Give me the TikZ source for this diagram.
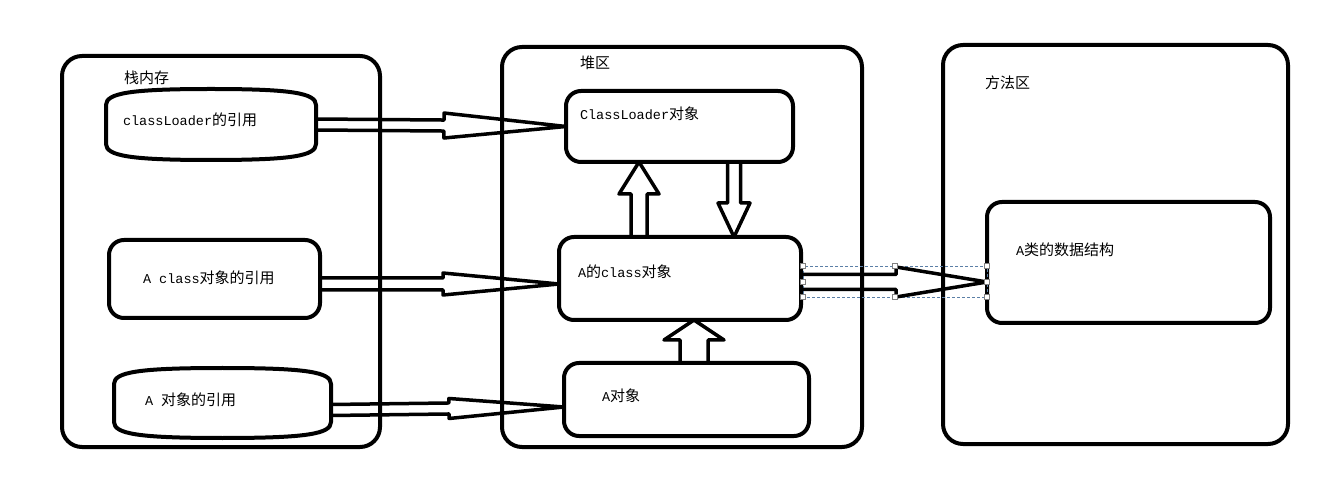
\documentclass[tikz,border=0pt]{standalone}
\usepackage{fontspec}
\setmainfont{Liberation Mono}
\newfontfamily\cjk{Noto Sans CJK SC}
\usetikzlibrary{calc}
\newcommand{\zh}[1]{{\cjk\fontsize{15}{17}\selectfont #1}}
\newcommand{\en}[1]{{\fontsize{13.5}{16}\selectfont #1}}
\definecolor{selcol}{HTML}{5B7FA6}
% hollow arrow: start, end, shaft half width, head half width, head length
\newcommand{\hollow}[5]{%
  \path let \p1=($(#2)-(#1)$) in \pgfextra{%
    \pgfmathparse{atan2(\y1,\x1)}\xdef\hang{\pgfmathresult}%
    \pgfmathparse{veclen(\x1,\y1)}\xdef\hlen{\pgfmathresult}};
  \begin{scope}[shift={(#1)},rotate=\hang]
    \draw[arrowline] (0,#3) -- ({\hlen-#5},#3) -- ({\hlen-#5},#4) -- (\hlen,0)
      -- ({\hlen-#5},-#4) -- ({\hlen-#5},-#3) -- (0,-#3);
  \end{scope}}
\newcommand{\tapebox}[1]{%
  \draw[boxline] ($(#1.north west)+(0,16)$) .. controls ($(#1.north west)+(0,4)$) and ($(#1.north west)+(25,0)$) .. (#1.north)
   .. controls ($(#1.north east)+(-25,0)$) and ($(#1.north east)+(0,4)$) .. ($(#1.north east)+(0,16)$)
   -- ($(#1.south east)+(0,-16)$) .. controls ($(#1.south east)+(0,-4)$) and ($(#1.south east)+(-25,0)$) .. (#1.south)
   .. controls ($(#1.south west)+(25,0)$) and ($(#1.south west)+(0,-4)$) .. ($(#1.south west)+(0,-16)$) -- cycle;}
\begin{document}
\begin{tikzpicture}[x=1pt,y=-1pt,
  boxline/.style={draw,line width=4pt,line join=round},
  container/.style={draw,line width=4pt,rounded corners=20pt,inner sep=0pt,outer sep=0pt},
  roundbox/.style={draw,line width=4pt,rounded corners=15pt,inner sep=0pt,outer sep=0pt},
  tapenode/.style={inner sep=0pt,outer sep=0pt},
  arrowline/.style={line width=3.5pt,line join=round},
  txt/.style={anchor=west,inner sep=0pt,outer sep=0pt},
  selbox/.style={draw=selcol,densely dashed,line width=0.8pt},
  handle/.style={draw=gray,fill=white,line width=0.8pt}]
\fill[white] (0,0) rectangle (1326,494);
\useasboundingbox (0,0) rectangle (1326,494);

% containers
\node[container,minimum width=318pt,minimum height=391pt] (stack) at (221,251.5) {};
\node[container,minimum width=360pt,minimum height=400pt] (heap) at (682,247) {};
\node[container,minimum width=345pt,minimum height=399pt] (method) at (1115.5,244.5) {};

\node[txt] (stacklbl) at (124,78) {\zh{栈内存}};
\node[txt] (heaplbl) at (580,63) {\zh{堆区}};
\node[txt] (methodlbl) at (985,83) {\zh{方法区}};

% stack items
\node[tapenode,minimum width=210pt,minimum height=71pt] (clref) at (211,124.5) {};
\tapebox{clref}
\node[roundbox,minimum width=211pt,minimum height=78pt] (aclsref) at (214.5,279) {};
\node[tapenode,minimum width=217pt,minimum height=70pt] (aref) at (222.5,403) {};
\tapebox{aref}

\node[txt] (clreft) at (123,120) {\en{classLoader}\zh{的引用}};
\node[txt] (aclsreft) at (143,278) {\en{A class}\zh{对象的引用}};
\node[txt] (areft) at (145,400) {\en{A\ }\zh{对象的引用}};

% heap items
\node[roundbox,minimum width=227pt,minimum height=71pt] (clobj) at (679.5,126.5) {};
\node[roundbox,minimum width=242pt,minimum height=83pt] (acls) at (680,278.5) {};
\node[roundbox,minimum width=245pt,minimum height=73pt] (aobj) at (686.5,399.5) {};

\node[txt] (clobjt) at (580,114) {\en{ClassLoader}\zh{对象}};
\node[txt] (aclst) at (578,272) {\en{A}\zh{的}\en{class}\zh{对象}};
\node[txt] (aobjt) at (602,396) {\en{A}\zh{对象}};

% method area item
\node[roundbox,minimum width=283pt,minimum height=121pt] (ads) at (1128.5,262.5) {};
\node[txt] (adst) at (1016,250) {\en{A}\zh{类的数据结构}};

% selection frame
\draw[selbox] (803,266) rectangle (987,297);

% arrows
\hollow{clref.east}{clobj.west}{5.5}{12.5}{122}
\hollow{$(aclsref.east)+(0,5)$}{$(acls.west)+(0,5.5)$}{6}{11}{116}
\hollow{$(aref.east)+(0,7)$}{$(aobj.west)+(0,7.5)$}{5.5}{10}{115}
\hollow{$(acls.north)+(-41,0)$}{$(clobj.south)+(-40.5,0)$}{8}{20}{32}
\hollow{$(clobj.south)+(54.5,0)$}{$(acls.north)+(54,0)$}{6.5}{16}{34}
\hollow{$(aobj.north)+(7.5,0)$}{$(acls.south)+(14,0)$}{14}{30}{20}
\hollow{$(acls.east)+(0,3.5)$}{$(ads.west)+(0,19.5)$}{7.5}{15}{91}

% selection handles
\foreach \hx/\hy in {803/266,895/266,987/266,803/282,987/282,803/297,895/297,987/297}
  \draw[handle] (\hx-2.5,\hy-2.5) rectangle (\hx+2.5,\hy+2.5);
\end{tikzpicture}
\end{document}
